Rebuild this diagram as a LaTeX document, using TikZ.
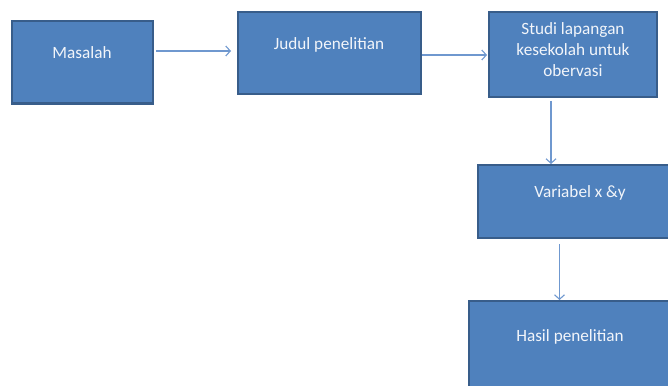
\documentclass[tikz,border=0pt]{standalone}
\usepackage{fontspec}
\setmainfont{Carlito}
\usetikzlibrary{arrows.meta}
\definecolor{boxfill}{HTML}{4F81BD}
\definecolor{boxline}{HTML}{385D8A}
\definecolor{arrline}{HTML}{6F98CF}
\definecolor{txtcol}{HTML}{F2F5FA}
\tikzset{
  box/.style={draw=boxline, line width=2pt, fill=boxfill, rectangle, inner sep=0pt},
  txt/.style={text=txtcol, font=\fontsize{17.2}{21}\selectfont, align=center, inner sep=0pt},
  arr/.style={draw=arrline, line width=1.1pt, -{Straight Barb[length=4.5pt,width=10pt]}}
}
\begin{document}
\begin{tikzpicture}[x=1pt,y=-1pt]
\useasboundingbox (0,0) rectangle (668,385);
\begin{scope}
\clip (0,0) rectangle (668,385);
\node[box, minimum width=141pt, minimum height=82pt] (m) at (82.5,62.5) {};
\node[box, minimum width=183pt, minimum height=82pt] (j) at (329.5,53) {};
\node[box, minimum width=168pt, minimum height=85pt] (s) at (573,54.5) {};
\node[box, minimum width=204pt, minimum height=73pt] (v) at (580,201.5) {};
\node[box, minimum width=202pt, minimum height=100pt] (h) at (570,351) {};
\node[txt] (mt) at (82,53) {Masalah};
\node[txt] (jt) at (329,45) {Judul penelitian};
\node[txt] (st) at (573,50) {Studi lapangan\\kesekolah untuk\\obervasi};
\node[txt] (vt) at (580,193) {Variabel x \&y};
\node[txt] (ht) at (570,337) {Hasil penelitian};
\draw[arr, shorten <=2pt, shorten >=6pt] ([yshift=11.5pt]m.east) -- ([yshift=2pt]j.west);
\draw[arr, shorten >=1pt] ([yshift=-2pt]j.east) -- ([yshift=-0.5pt]s.west);
\draw[arr, shorten <=3pt] ([xshift=-22pt]s.south) -- ([xshift=-22pt]s.south |- v.north);
\draw[arr, shorten <=5pt] ([xshift=-20.5pt]v.south) -- ([xshift=-20.5pt]v.south |- h.north);
\end{scope}
\end{tikzpicture}
\end{document}
